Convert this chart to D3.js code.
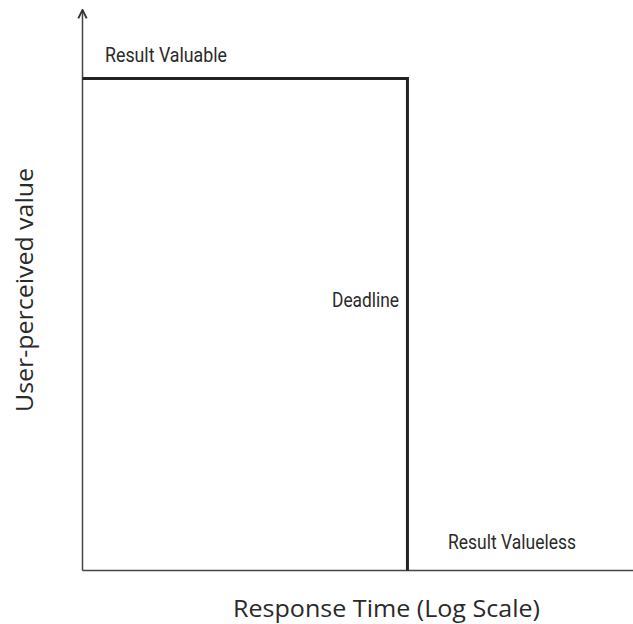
<!DOCTYPE html>
<html>
<head>
<meta charset="utf-8">
<script src="https://cdn.jsdelivr.net/npm/d3@7"></script>
<style>
  html, body { margin: 0; padding: 0; background: #fff; }
  svg { display: block; }
  .note { font-family: "Liberation Sans Narrow", Roboto, "Liberation Sans", sans-serif; font-size: 20px; fill: #2a2a2a; }
  .axis-title { font-family: "Open Sans", "Noto Sans", sans-serif; font-size: 24px; fill: #2a2a2a; }
</style>
</head>
<body>
<svg id="chart" width="633" height="624"></svg>
<script>
// Response time values (log scale) and the user-perceived value at each
const responseTimes = [1, 59, 59];
const perceivedValues = [1, 1, 0];
const timeDomain = [1, 1000];
const deadlineTime = 59;

const annotations = ["Result Valuable", "Deadline", "Result Valueless"];
const xTitle = "Response Time (Log Scale)";
const yTitle = "User-perceived value";

const svg = d3.select("#chart");
const W = 633, H = 624;
const plotLeft = 82.5, plotBottom = 570.5, plotTop = 78.5, axisTop = 11;

const x = d3.scaleLog().domain(timeDomain).range([plotLeft, W]);
const y = d3.scaleLinear().domain([0, 1]).range([plotBottom, plotTop]);

// Arrowhead for the value axis
svg.append("defs").append("marker")
  .attr("id", "arrow")
  .attr("viewBox", "0 0 10 10")
  .attr("refX", 8).attr("refY", 5)
  .attr("markerWidth", 7).attr("markerHeight", 7)
  .attr("orient", "auto")
  .append("path")
  .attr("d", "M1,1 L9,5 L1,9")
  .attr("fill", "none")
  .attr("stroke", "#333")
  .attr("stroke-width", 1.8);

// Axes
svg.append("line")
  .attr("x1", plotLeft).attr("x2", plotLeft)
  .attr("y1", plotBottom).attr("y2", axisTop)
  .attr("stroke", "#444").attr("stroke-width", 1.5)
  .attr("marker-end", "url(#arrow)");

svg.append("line")
  .attr("x1", plotLeft).attr("x2", W)
  .attr("y1", plotBottom).attr("y2", plotBottom)
  .attr("stroke", "#444").attr("stroke-width", 1.5);

// Step function: full value until the deadline, then nothing
const pts = responseTimes.map((t, i) => [t, perceivedValues[i]]);
svg.append("path")
  .datum(pts)
  .attr("fill", "none")
  .attr("stroke", "#222")
  .attr("stroke-width", 3)
  .attr("stroke-linejoin", "miter")
  .attr("d", d3.line().x(d => x(d[0])).y(d => y(d[1])));

// Annotations
svg.append("text").attr("class", "note")
  .attr("x", 105).attr("y", 61.5)
  .attr("textLength", 122).attr("lengthAdjust", "spacingAndGlyphs")
  .text(annotations[0]);

svg.append("text").attr("class", "note")
  .attr("x", 332).attr("y", 306.5)
  .attr("textLength", 67).attr("lengthAdjust", "spacingAndGlyphs")
  .text(annotations[1]);

svg.append("text").attr("class", "note")
  .attr("x", 448).attr("y", 548.5)
  .attr("textLength", 128).attr("lengthAdjust", "spacingAndGlyphs")
  .text(annotations[2]);

// Axis titles
svg.append("text").attr("class", "axis-title")
  .attr("x", 233).attr("y", 617)
  .attr("textLength", 307).attr("lengthAdjust", "spacingAndGlyphs")
  .text(xTitle);

svg.append("text").attr("class", "axis-title")
  .attr("transform", "translate(33,412) rotate(-90)")
  .attr("textLength", 244).attr("lengthAdjust", "spacingAndGlyphs")
  .text(yTitle);
</script>
</body>
</html>
